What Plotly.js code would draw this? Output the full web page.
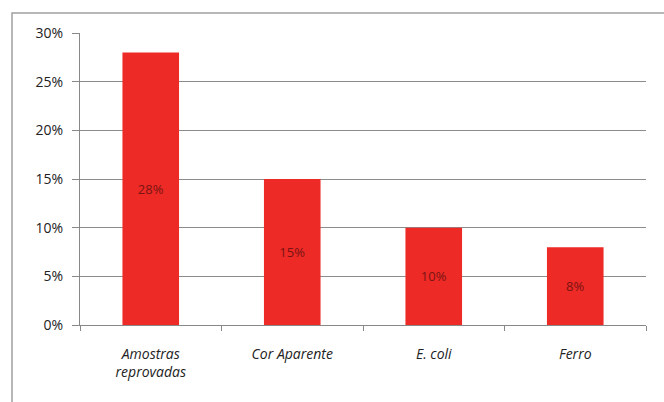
<!DOCTYPE html>
<html>
<head>
<meta charset="utf-8">
<script src="https://cdn.plot.ly/plotly-3.0.1.min.js"></script>
<style>html,body{margin:0;padding:0;background:#fff;}#chart{width:664px;height:402px;}</style>
</head>
<body>
<div id="chart"></div>
<script>
const categories = ["Amostras<br>reprovadas", "Cor Aparente", "E. coli", "Ferro"];
const values = [0.28, 0.15, 0.10, 0.08];
const labels = ["28%", "15%", "10%", "8%"];

const trace = {
  type: "bar",
  x: categories,
  y: values,
  text: labels,
  textposition: "inside",
  insidetextanchor: "middle",
  textangle: 0,
  textfont: {family: "Open Sans, Liberation Sans, sans-serif", size: 13, color: "#7a1414"},
  marker: {color: "#ed2a25", line: {width: 0}},
  width: 0.4,
  hoverinfo: "skip"
};

const layout = {
  width: 664,
  height: 402,
  margin: {l: 80, r: 18, t: 33, b: 77},
  paper_bgcolor: "#ffffff",
  plot_bgcolor: "#ffffff",
  showlegend: false,
  font: {family: "Open Sans, Liberation Sans, sans-serif", size: 14, color: "#222"},
  xaxis: {
    type: "category",
    tickson: "boundaries",
    ticks: "outside",
    ticklen: 5,
    tickcolor: "#888",
    showline: true,
    linecolor: "#888",
    linewidth: 1,
    showgrid: false,
    ticklabelstandoff: 16,
    tickfont: {family: "Open Sans, Liberation Sans, sans-serif", size: 14, color: "#222", style: "italic"},
    fixedrange: true
  },
  yaxis: {
    range: [0, 0.30],
    dtick: 0.05,
    tickformat: ".0%",
    ticks: "outside",
    ticklen: 7,
    tickcolor: "#888",
    showline: true,
    linecolor: "#888",
    linewidth: 1,
    showgrid: true,
    gridcolor: "#8c8c8c",
    gridwidth: 1,
    zeroline: false,
    ticklabelstandoff: 6,
    tickfont: {family: "Open Sans, Liberation Sans, sans-serif", size: 14, color: "#222"},
    fixedrange: true
  },
  shapes: [
    {type: "rect", xref: "paper", yref: "paper",
     x0: (12 - 80) / 566, x1: (680 - 80) / 566,
     y0: (325 - 420) / 292, y1: (325 - 13) / 292,
     line: {color: "#a0a0a0", width: 1.5}, fillcolor: "rgba(0,0,0,0)", layer: "below"}
  ]
};

Plotly.newPlot("chart", [trace], layout, {displayModeBar: false, staticPlot: true});
</script>
</body>
</html>
